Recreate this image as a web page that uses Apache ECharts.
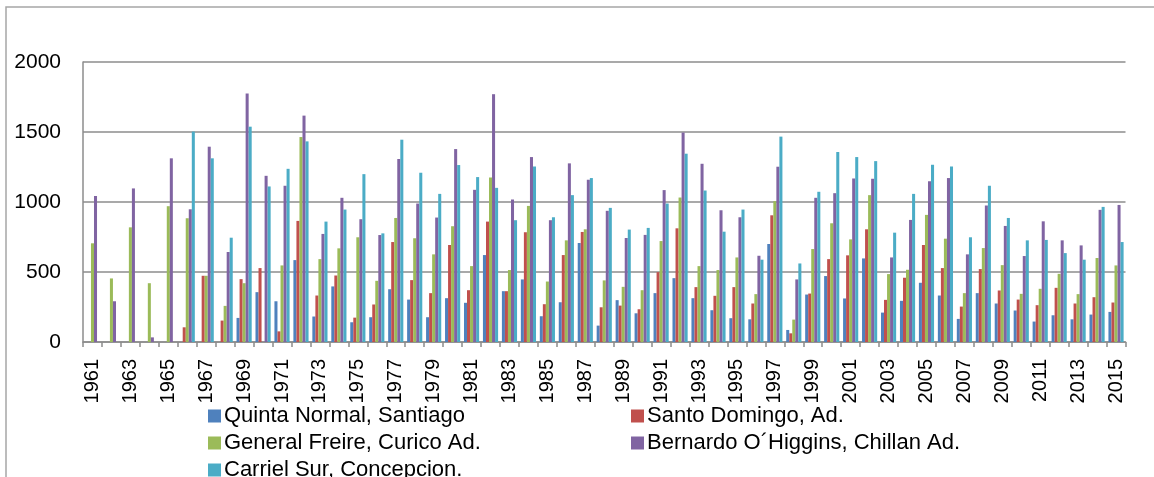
<!DOCTYPE html>
<html>
<head>
<meta charset="utf-8">
<script src="https://cdn.jsdelivr.net/npm/echarts@6/dist/echarts.min.js"></script>
<style>
  html, body { margin: 0; padding: 0; background: #fff; }
  #chart { width: 1154px; height: 477px; }
</style>
</head>
<body>
<div id="chart"></div>
<script>
// Annual rainfall (mm) at five Chilean weather stations, 1961–2015
const years = [];
for (let y = 1961; y <= 2015; y++) years.push(String(y));

const seriesNames = [
  'Quinta Normal, Santiago',
  'Santo Domingo, Ad.',
  'General Freire, Curico Ad.',
  'Bernardo O\u00B4Higgins, Chillan Ad.',
  'Carriel Sur, Concepcion.'
];

const quintaNormal = [
  null, null, null, null, null, null, null, null,
  172, 356, 291, 585, 182, 397, 141, 177, 377, 303, 177, 313, 280, 621, 363, 447, 184, 284,
  707, 117, 299, 205, 349, 456, 313, 227, 170, 162, 700, 86, 339, 471, 311, 597, 210, 294,
  423, 332, 165, 349, 275, 225, 146, 191, 162, 196, 215
];

const santoDomingo = [
  null, null, null, null, null,
  105, 473, 153, 449, 528, 76, 865, 332, 475, 174, 268, 714, 442, 349, 693, 370, 860, 363,
  784, 270, 621, 786, 248, 260, 234, 499, 812, 392, 330, 392, 275, 905, 62, 346, 592, 619,
  805, 301, 459, 693, 528, 253, 521, 368, 303, 263, 387, 275, 320, 282
];

const generalFreire = [
  705, 454, 819, 420, 970, 884, 473, 258, 420, null, 547, 1464, 592, 669, 748, 437, 886, 741,
  626, 827, 542, 1175, 514, 972, 432, 726, 805, 440, 394, 370, 721, 1032, 542, 514, 604, 342,
  1006, 160, 664, 848, 733, 1049, 485, 516, 908, 738, 349, 671, 549, 344, 380, 487, 342, 600, 547
];

const chillan = [
  1042, 291, 1097, 33, 1312, 948, 1395, 643, 1775, 1187, 1116, 1617, 772, 1030, 877, 764,
  1307, 989, 889, 1378, 1087, 1770, 1018, 1321, 870, 1276, 1159, 937, 743, 765, 1085, 1496,
  1273, 941, 891, 616, 1252, 447, 1030, 1063, 1168, 1166, 604, 872, 1149, 1171, 626, 975,
  829, 614, 862, 726, 690, 944, 979
];

const carrielSur = [
  null, null, null, null, null,
  1503, 1312, 745, 1538, 1111, 1237, 1433, 860, 946, 1199, 776, 1445, 1209, 1058, 1264, 1178,
  1101, 870, 1254, 891, 1049, 1171, 958, 803, 815, 989, 1345, 1082, 788, 946, 588, 1467, 561,
  1073, 1357, 1321, 1292, 781, 1058, 1266, 1254, 748, 1116, 886, 726, 729, 635, 588, 965, 714
];

const yTicks = [0, 500, 1000, 1500, 2000];

const palette = ['#4F81BD', '#C0504D', '#9BBB59', '#8064A2', '#4BACC6'];
const allValues = [quintaNormal, santoDomingo, generalFreire, chillan, carrielSur];

const fontFamily = '"Liberation Sans", Arial, sans-serif';
const axisGray = '#8C8C8C';

// Legend blocks: horizontal with a narrow width so each entry wraps onto its own row
function legendBlock(left, names) {
  return {
    orient: 'horizontal',
    left: left,
    top: 400,
    width: 300,
    itemWidth: 13,
    itemHeight: 13,
    itemGap: 5,
    icon: 'rect',
    textStyle: { fontSize: 22, color: '#000', fontFamily: fontFamily, padding: [0, 0, 0, -2] },
    data: names
  };
}

const chart = echarts.init(document.getElementById('chart'), null, { renderer: 'canvas' });

chart.setOption({
  animation: false,
  color: palette,
  textStyle: { fontFamily: fontFamily },
  graphic: [{
    type: 'rect',
    shape: { x: 6, y: 7, width: 1170, height: 490 },
    style: { fill: 'none', stroke: '#A6A6A6', lineWidth: 1.5 },
    silent: true,
    z: -1
  }],
  grid: { left: 83, right: 28.5, top: 62, bottom: 135, containLabel: false },
  legend: [
    legendBlock(203, [seriesNames[0], seriesNames[2], seriesNames[4]]),
    legendBlock(626, [seriesNames[1], seriesNames[3]])
  ],
  xAxis: {
    type: 'category',
    data: years,
    boundaryGap: true,
    axisLine: { show: true, lineStyle: { color: axisGray, width: 1.5 } },
    axisTick: { show: true, interval: 0, length: 5, lineStyle: { color: axisGray, width: 1.5 } },
    axisLabel: {
      interval: 1,
      rotate: 90,
      margin: 17,
      fontSize: 20,
      color: '#000',
      fontFamily: fontFamily
    },
    splitLine: { show: false }
  },
  yAxis: {
    type: 'value',
    min: yTicks[0],
    max: yTicks[yTicks.length - 1],
    interval: yTicks[1] - yTicks[0],
    axisLine: { show: true, lineStyle: { color: axisGray, width: 1.5 } },
    axisTick: { show: false },
    axisLabel: {
      fontSize: 21,
      color: '#000',
      margin: 22,
      fontFamily: fontFamily,
      formatter: (v) => String(v)
    },
    splitLine: { show: true, lineStyle: { color: axisGray, width: 1.5 } }
  },
  series: seriesNames.map((name, i) => ({
    name: name,
    type: 'bar',
    data: allValues[i],
    barGap: '0%',
    barCategoryGap: '20%',
    itemStyle: { color: palette[i] }
  }))
});
</script>
</body>
</html>
